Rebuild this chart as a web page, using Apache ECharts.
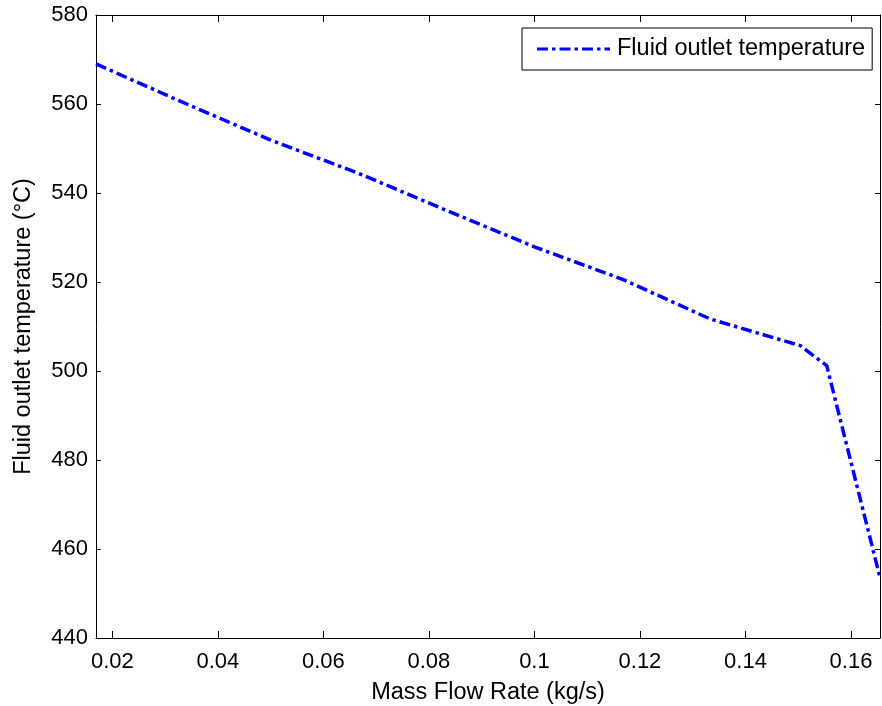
<!DOCTYPE html>
<html>
<head>
<meta charset="utf-8">
<script src="https://cdn.jsdelivr.net/npm/echarts@6/dist/echarts.min.js"></script>
<style>html,body{margin:0;padding:0;background:#fff;}#c{width:882px;height:706px;}</style>
</head>
<body>
<div id="c"></div>
<script>
var flowRates = [0.0169, 0.0333, 0.05, 0.0667, 0.0833, 0.1, 0.1167, 0.1333, 0.1504, 0.1554, 0.1655];
var outletTemps = [569.0, 560.4, 551.9, 544.4, 536.1, 527.9, 520.6, 511.7, 505.7, 501.2, 453.6];
var xTicks = [0.02, 0.04, 0.06, 0.08, 0.1, 0.12, 0.14, 0.16];
var seriesName = 'Fluid outlet temperature';

var font = "'Liberation Sans', Arial, sans-serif";
var chart = echarts.init(document.getElementById('c'));
var points = flowRates.map(function (x, i) { return [x, outletTemps[i]]; });

function xAxisCfg(pos, labels) {
  return {
    type: 'value', position: pos, min: 0.0169, max: 0.1655,
    axisLine: { show: true, onZero: false, lineStyle: { color: '#000', width: 1 } },
    axisTick: { show: true, inside: true, length: 7, customValues: xTicks, lineStyle: { color: '#000' } },
    axisLabel: { show: labels, customValues: xTicks, color: '#000', fontSize: 22, fontFamily: font, margin: 13 },
    splitLine: { show: false }
  };
}
function yAxisCfg(pos, labels) {
  return {
    type: 'value', position: pos, min: 440, max: 580, interval: 20,
    axisLine: { show: true, onZero: false, lineStyle: { color: '#000', width: 1 } },
    axisTick: { show: true, inside: true, length: 5, lineStyle: { color: '#000' } },
    axisLabel: { show: labels, color: '#000', fontSize: 22, fontFamily: font, margin: 8 },
    splitLine: { show: false }
  };
}

var xa = xAxisCfg('bottom', true);
xa.name = 'Mass Flow Rate (kg/s)';
xa.nameLocation = 'middle';
xa.nameGap = 43;
xa.nameTextStyle = { color: '#000', fontSize: 23.5, fontFamily: font };
var xt = xAxisCfg('top', false);
var ya = yAxisCfg('left', true);
ya.name = 'Fluid outlet temperature (°C)';
ya.nameLocation = 'middle';
ya.nameGap = 60;
ya.nameTextStyle = { color: '#000', fontSize: 23.5, fontFamily: font };
var yr = yAxisCfg('right', false);

var dashDotIcon = 'path://M0,0h11v3h-11z M15,0h3.5v3h-3.5z M22.5,0h11v3h-11z M37.5,0h3.5v3h-3.5z M45,0h11v3h-11z M60,0h3.5v3h-3.5z M67.5,0h5.5v3h-5.5z';

chart.setOption({
  backgroundColor: '#fff',
  animation: false,
  grid: { left: 96, right: 2, top: 15, bottom: 68, containLabel: false, outerBoundsMode: 'none' },
  legend: {
    left: 522, top: 28,
    orient: 'vertical',
    data: [{ name: seriesName, icon: dashDotIcon }],
    backgroundColor: '#fff',
    borderColor: '#000', borderWidth: 1,
    padding: [9, 7, 9, 15],
    itemWidth: 73, itemHeight: 3.5, itemGap: 0,
    itemStyle: { color: '#0000ff', borderWidth: 0 },
    textStyle: { color: '#000', fontSize: 23.5, fontFamily: font, padding: [0, 0, 0, 2] }
  },
  xAxis: [xa, xt],
  yAxis: [ya, yr],
  series: [{
    name: seriesName,
    type: 'line',
    data: points,
    symbol: 'none',
    showSymbol: false,
    clip: true,
    lineStyle: { color: '#0000ff', width: 3.5, type: [11, 4, 3.5, 4] },
    itemStyle: { color: '#0000ff' }
  }]
});
</script>
</body>
</html>
